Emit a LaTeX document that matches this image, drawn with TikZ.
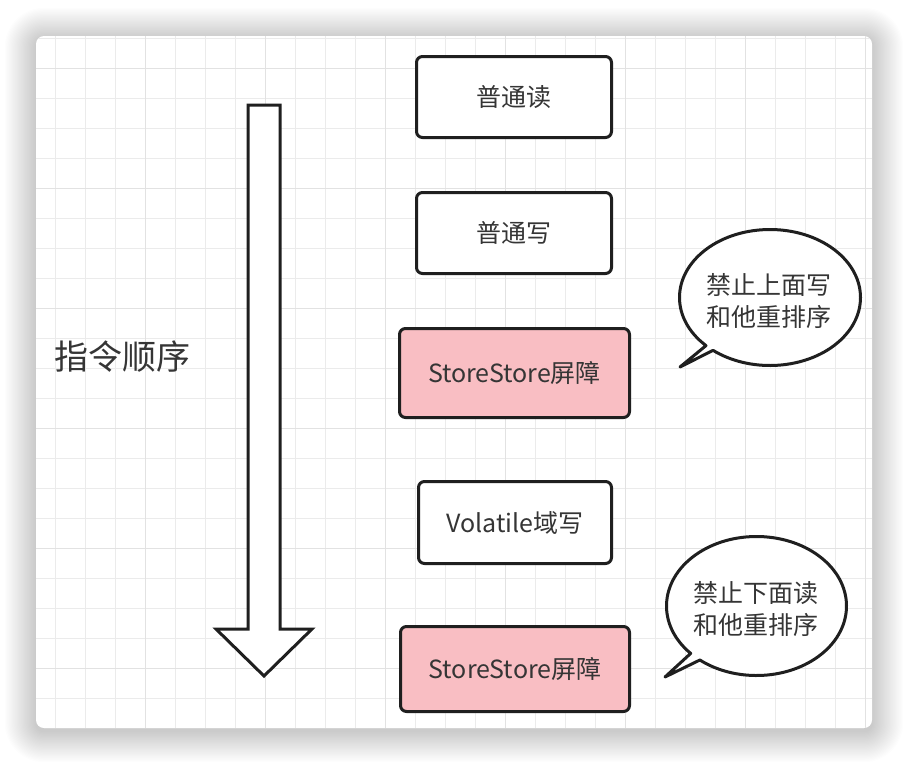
\documentclass[tikz,border=0pt]{standalone}
\usepackage{fontspec}
\setmainfont{Noto Sans CJK SC}
\usetikzlibrary{calc}
\definecolor{gridc}{HTML}{EBEBEB}
\definecolor{gridm}{HTML}{E2E2E2}
\definecolor{linec}{HTML}{1F1F1F}
\definecolor{txtc}{HTML}{353535}
\definecolor{pinkc}{HTML}{F9BEC3}
\tikzset{
  box/.style={draw=linec, line width=3pt, rounded corners=6pt, fill=white, text=txtc,
    font=\fontsize{25}{30}\selectfont, inner sep=0pt},
  pinkbox/.style={box, fill=pinkc},
  bubble/.style={draw=linec, line width=3pt, fill=white, line join=round},
  bubbletext/.style={text=txtc, align=center, font=\fontsize{25}{32}\selectfont, inner sep=0pt},
  bigarrow/.style={draw=linec, line width=3pt, fill=white, line join=miter}
}
\begin{document}
\begin{tikzpicture}[x=1pt,y=-1pt]
\useasboundingbox (0,0) rectangle (908,764);
\fill[white] (0,0) rectangle (908,764);
% shadow
\foreach \i in {1,...,26} {
  \fill[black, opacity=0.009, rounded corners={(8+1.2*\i)*1pt}]
    ({36-1.2*\i},{36-1.2*\i+3}) rectangle ({872+1.2*\i},{728+1.2*\i+3});
}
% card
\fill[white, rounded corners=8pt] (36,36) rectangle (872,728);
\begin{scope}
  \clip[rounded corners=8pt] (36,36) rectangle (872,728);
  \foreach \x in {55,85,...,865} \draw[gridc, line width=1pt] (\x,36) -- (\x,728);
  \foreach \y in {38,68,...,728} \draw[gridc, line width=1pt] (36,\y) -- (872,\y);
  \foreach \x in {145,265,...,865} \draw[gridm, line width=1pt] (\x,36) -- (\x,728);
  \foreach \y in {68,188,...,728} \draw[gridm, line width=1pt] (36,\y) -- (872,\y);
\end{scope}
% big arrow
\draw[bigarrow] (248,105) -- (280,105) -- (280,629) -- (312,629) -- (264,676) -- (216,629) -- (248,629) -- cycle;
\node[text=txtc, font=\fontsize{34}{40}\selectfont, inner sep=0pt] (order) at (122,357) {指令顺序};
% boxes
\node[box, minimum width=195pt, minimum height=81pt] (r1) at (514,97) {普通读};
\node[box, minimum width=195pt, minimum height=81pt] (w1) at (514,233) {普通写};
\node[pinkbox, minimum width=230pt, minimum height=89pt] (ss1) at (514.5,373) {StoreStore屏障};
\node[box, minimum width=193pt, minimum height=82pt] (vw) at (515,522.5) {Volatile域写};
\node[pinkbox, minimum width=229pt, minimum height=85pt] (ss2) at (515,669) {StoreStore屏障};
% bubbles
\coordinate (t1) at (680,367);
\coordinate (c1) at (770,297.5);
\draw[bubble] (t1) -- ($(c1)+(135:90.5 and 68)$) arc[start angle=135, end angle=489, x radius=90.5, y radius=68] -- cycle;
\node[bubbletext] (b1) at (769,301) {禁止上面写\\和他重排序};
\coordinate (t2) at (665,677);
\coordinate (c2) at (756.5,606);
\draw[bubble] (t2) -- ($(c2)+(137:90 and 69.5)$) arc[start angle=137, end angle=489, x radius=90, y radius=69.5] -- cycle;
\node[bubbletext] (b2) at (756,609) {禁止下面读\\和他重排序};
\end{tikzpicture}
\end{document}
